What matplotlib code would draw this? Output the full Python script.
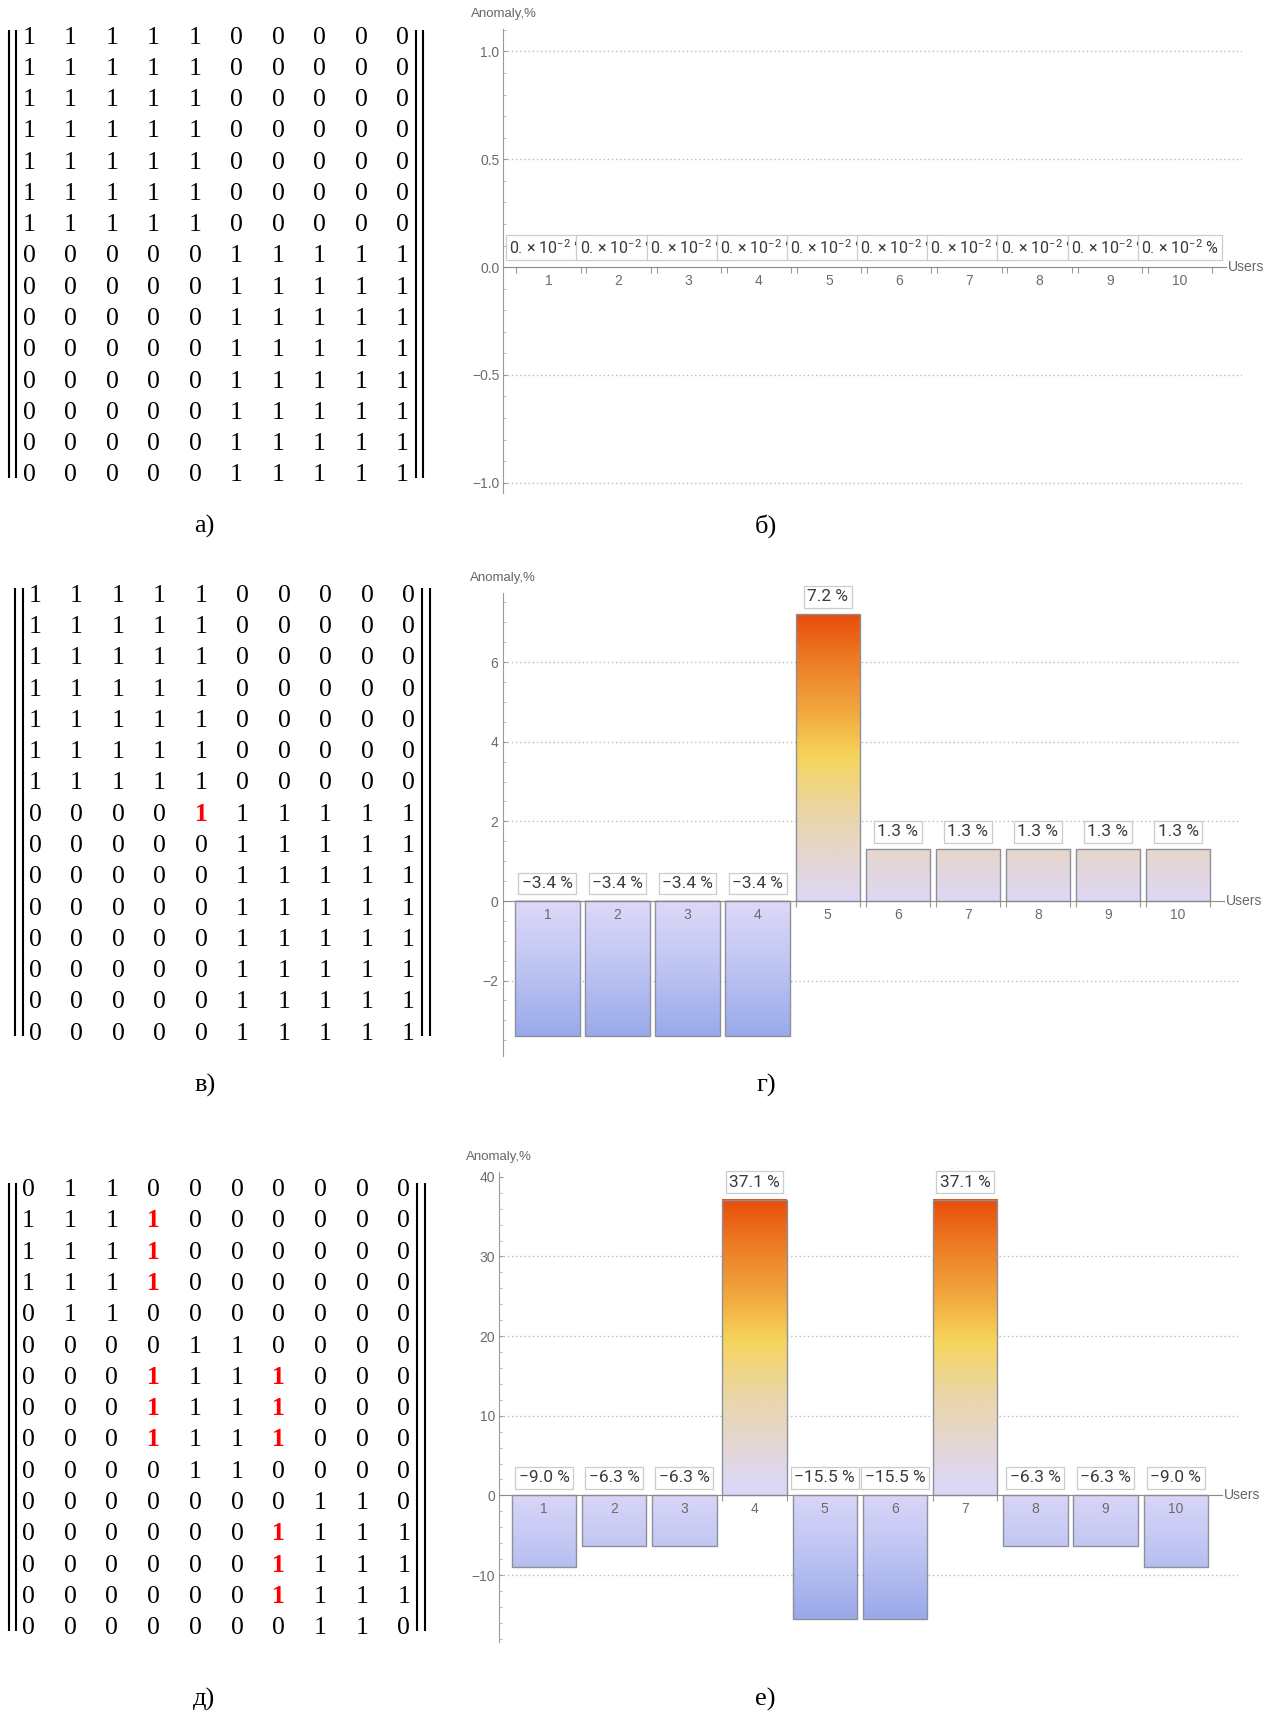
import numpy as np
import matplotlib
matplotlib.use('Agg')
import matplotlib.pyplot as plt
from matplotlib import font_manager
from matplotlib.colors import LinearSegmentedColormap, Normalize
from matplotlib.ticker import MultipleLocator

W, H = 1271, 1717

# ---- data ----
users = list(range(1, 11))
anomaly_b = [0.0, 0.0, 0.0, 0.0, 0.0, 0.0, 0.0, 0.0, 0.0, 0.0]
anomaly_g = [-3.4, -3.4, -3.4, -3.4, 7.2, 1.3, 1.3, 1.3, 1.3, 1.3]
anomaly_e = [-9.0, -6.3, -6.3, 37.1, -15.5, -15.5, 37.1, -6.3, -6.3, -9.0]

yticks_b = [-1.0, -0.5, 0.0, 0.5, 1.0]
yticks_g = [-2, 0, 2, 4, 6]
yticks_e = [-10, 0, 10, 20, 30, 40]

matrix_a = ["1111100000"] * 7 + ["0000011111"] * 8
matrix_v = ["1111100000"] * 7 + ["0000111111"] + ["0000011111"] * 7
matrix_d = [
    "0110000000",
    "1111000000",
    "1111000000",
    "1111000000",
    "0110000000",
    "0000110000",
    "0001111000",
    "0001111000",
    "0001111000",
    "0000110000",
    "0000000110",
    "0000001111",
    "0000001111",
    "0000001111",
    "0000000110",
]
# highlighted (row, col) cells, drawn in bold red
red_v = [(7, 4)]
red_d = [(1, 3), (2, 3), (3, 3), (6, 3), (7, 3), (8, 3),
         (6, 6), (7, 6), (8, 6), (11, 6), (12, 6), (13, 6)]

# ---- fonts ----
names = {f.name for f in font_manager.fontManager.ttflist}
NARROW = 'Liberation Sans Narrow' if 'Liberation Sans Narrow' in names else 'Roboto'
SANS = 'Liberation Sans'
SERIF = 'Liberation Serif'
plt.rcParams['font.family'] = [SANS, 'DejaVu Sans']
plt.rcParams['mathtext.fontset'] = 'custom'
plt.rcParams['mathtext.rm'] = NARROW
plt.rcParams['mathtext.default'] = 'rm'

cmap = LinearSegmentedColormap.from_list('anom', [
    (0.0, '#9aa9ea'), (0.15, '#bcc3f2'), (0.31, '#dcd8f8'), (0.42, '#e5d6d2'),
    (0.53, '#ebd6a8'), (0.665, '#f6d45a'), (0.78, '#f1a43c'), (0.9, '#ec7a24'),
    (1.0, '#e84e0a')])

BW = 0.917
XLIM = (0.36, 10.89)
XAXIS_END = 10.66

fig = plt.figure(figsize=(W / 100, H / 100), dpi=100)
fig.patch.set_facecolor('white')

# overlay in pixel coordinates for the matrices and captions
ov = fig.add_axes([0, 0, 1, 1])
ov.set_xlim(0, W)
ov.set_ylim(H, 0)
ov.set_axis_off()


def draw_matrix(rows, red, x0, dx, y0, dy, bars):
    for i, row in enumerate(rows):
        for j, ch in enumerate(row):
            hot = (i, j) in red
            ov.text(x0 + j * dx, y0 + i * dy + 8.5, ch, ha='center', va='baseline',
                    fontsize=18.5, family=SERIF, color='red' if hot else 'black',
                    fontweight='bold' if hot else 'normal')
    top = y0 - 5
    bot = y0 + (len(rows) - 1) * dy + 5
    for bx in bars:
        ov.plot([bx, bx], [top, bot], color='black', lw=1.5, solid_capstyle='butt')


draw_matrix(matrix_a, [], 29.0, 41.5, 35.0, 31.28, [9, 16, 416, 423])
draw_matrix(matrix_v, red_v, 35.0, 41.5, 593.3, 31.28, [14.5, 22.5, 422, 430])
draw_matrix(matrix_d, red_d, 28.5, 41.7, 1187.7, 31.28, [8.5, 16, 417, 425])

for txt, x, y in [('а)', 204, 526), ('б)', 766, 526), ('в)', 205, 1085),
                  ('г)', 766, 1085), ('д)', 204, 1699), ('е)', 765, 1699)]:
    ov.text(x, y, txt, ha='center', va='center', fontsize=19, family=SERIF)


def panel_rect(x1_px, step_px, y0_px, unit_px, ylim):
    left = x1_px + (XLIM[0] - 1) * step_px
    right = x1_px + (XLIM[1] - 1) * step_px
    top = y0_px - ylim[1] * unit_px
    bottom = y0_px - ylim[0] * unit_px
    return [left / W, 1 - bottom / H, (right - left) / W, (bottom - top) / H]


def fmt(v):
    return f"{v:.1f} %".replace('-', '−')


def bar_chart(rect, values, labels, ylim, yticks, yticklabels, minor, grid, label_size=12.5):
    ax = fig.add_axes(rect)
    ax.patch.set_alpha(0)
    vals = np.array(values)
    if vals.min() != vals.max():
        norm = Normalize(vals.min(), vals.max())
        for x, v in zip(users, vals):
            grad = np.linspace(0, v, 200).reshape(-1, 1)
            ax.imshow(grad, extent=(x - BW / 2, x + BW / 2, 0, v), origin='lower',
                      cmap=cmap, norm=norm, aspect='auto', interpolation='bilinear', zorder=1)
        ax.bar(users, vals, width=BW, fill=False, edgecolor='#8e8f9c', linewidth=1.0, zorder=1.2)
    for y in grid:
        ax.axhline(y, color='#b8b8b8', lw=1.0, ls=(0, (1, 2)), zorder=0.5)
    # value boxes; in panel b they are wider than a bar and overlap like in the original
    for x, v, t in zip(users, vals, labels):
        ax.annotate(t, xy=(x, max(v, 0)), xytext=(0, 7.2), textcoords='offset points',
                    ha='center', va='bottom', fontsize=label_size, family=NARROW,
                    color='#3a3a3a', zorder=3, annotation_clip=False,
                    bbox=dict(boxstyle='square,pad=0.2', fc='white', ec='#cccccc', lw=0.9))

    ax.set_xlim(XLIM)
    ax.set_ylim(ylim)
    for s in ('top', 'right'):
        ax.spines[s].set_visible(False)
    ax.spines['left'].set_color('#9a9a9a')
    ax.spines['bottom'].set_color('#8a8a8a')
    ax.spines['bottom'].set_position(('data', 0))
    ax.spines['bottom'].set_bounds(XLIM[0], XAXIS_END)

    ax.set_xticks(users)
    ax.set_xticklabels([str(u) for u in users])
    edges = [u - BW / 2 for u in users] + [u + BW / 2 for u in users]
    ax.set_xticks(edges, minor=True)
    ax.tick_params(axis='x', which='major', length=0, pad=5, labelsize=10, labelcolor='#6b6b6b')
    ax.tick_params(axis='x', which='minor', direction='out', length=4.3, width=0.8, color='#999999')

    ax.set_yticks(yticks)
    ax.set_yticklabels(yticklabels)
    ax.yaxis.set_minor_locator(MultipleLocator(minor))
    ax.tick_params(axis='y', which='major', direction='in', length=3, width=0.8,
                   color='#999999', pad=3, labelsize=10, labelcolor='#6b6b6b')
    ax.tick_params(axis='y', which='minor', direction='in', length=1.8, width=0.6, color='#aaaaaa')

    ax.text(XAXIS_END + 0.02, 0, 'Users', ha='left', va='center', fontsize=10,
            color='#666666', clip_on=False)
    ax.annotate('Anomaly,%', xy=(0, 1), xycoords='axes fraction', xytext=(0, 10.5),
                textcoords='offset points', ha='center', va='center', fontsize=9.5,
                color='#666666', annotation_clip=False)
    return ax


labels_b = ["0. × 10$^{-2}$ %" for v in anomaly_b]
labels_g = [fmt(v) for v in anomaly_g]
labels_e = [fmt(v) for v in anomaly_e]

ylim_b = (-1.05, 1.105)
ylim_g = (-3.9, 7.74)
ylim_e = (-18.4, 40.6)

bar_chart(panel_rect(548.4, 70.18, 267.1, 215.6, ylim_b), anomaly_b, labels_b, ylim_b,
          yticks_b, [f"{t:.1f}".replace('-', '−') for t in yticks_b], 0.1,
          [1.0, 0.5, -0.5, -1.0], label_size=11.5)
bar_chart(panel_rect(547.4, 70.07, 901.0, 39.8, ylim_g), anomaly_g, labels_g, ylim_g,
          yticks_g, [str(t).replace('-', '−') for t in yticks_g], 0.5,
          [6, 4, 2, -2])
bar_chart(panel_rect(544.0, 70.19, 1495.4, 7.965, ylim_e), anomaly_e, labels_e, ylim_e,
          yticks_e, [str(t).replace('-', '−') for t in yticks_e], 2,
          [30, 20, 10, -10])

fig.savefig('out.png', dpi=100, facecolor='white')
